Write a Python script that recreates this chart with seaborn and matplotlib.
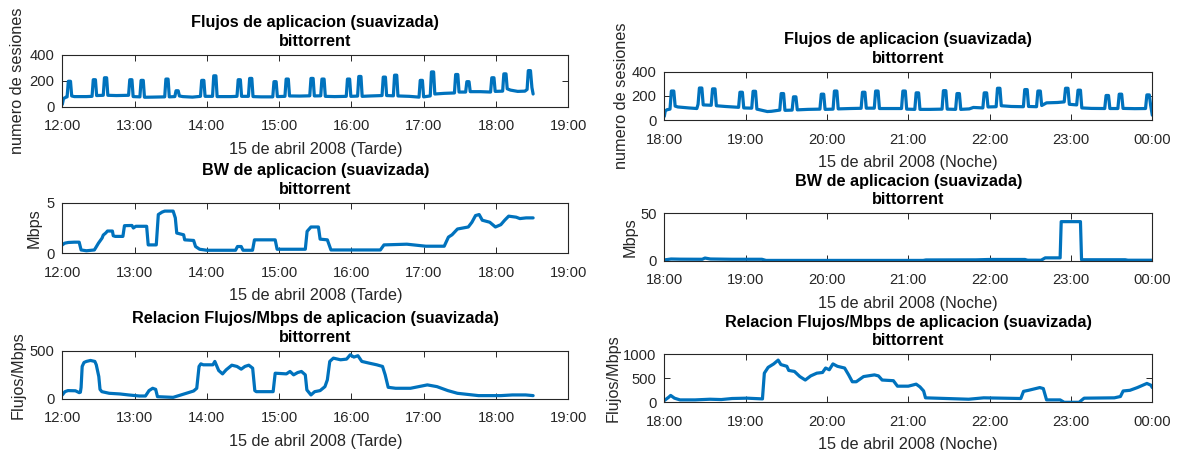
import numpy as np
import pandas as pd
import matplotlib
matplotlib.use("Agg")
import matplotlib.pyplot as plt
import matplotlib.dates as mdates
import seaborn as sns

# ---------------------------------------------------------------------------
# Series vertices: (minutes from the start of the window, value)
# ---------------------------------------------------------------------------
flujos_tarde = [
    (0, 20), (1, 65), (3, 75), (4.0, 78), (5.0, 198), (6.8, 198), (7.8, 85), (10, 80), (20, 80),
    (24.7, 82), (25.7, 210), (27.5, 210), (28.5, 88),
    (34.0, 90), (35.0, 225), (36.8, 225), (37.8, 90), (45, 88),
    (55.0, 90), (56.0, 210), (57.8, 210), (58.8, 80),
    (64.4, 78), (65.4, 205), (67.2, 205), (68.2, 75), (75, 76),
    (85.0, 78), (86.0, 215), (87.8, 215), (88.8, 78),
    (93.4, 80), (94.4, 125), (96.2, 125), (97.2, 85), (100, 80), (108, 76),
    (114.7, 82), (115.7, 205), (117.5, 205), (118.5, 82),
    (124.7, 82), (125.7, 240), (127.5, 240), (128.5, 80), (140, 80),
    (145.0, 82), (146.0, 210), (147.8, 210), (148.8, 82),
    (154.5, 82), (155.5, 220), (157.3, 220), (158.3, 80), (165, 78),
    (174.7, 78), (175.7, 195), (177.5, 195), (178.5, 80),
    (184.8, 82), (185.8, 215), (187.6, 215), (188.6, 85), (197, 84),
    (205.4, 86), (206.4, 220), (208.2, 220), (209.2, 85),
    (214.5, 86), (215.5, 215), (217.3, 215), (218.3, 82), (226, 80),
    (235.7, 82), (236.7, 215), (238.5, 215), (239.5, 82),
    (245.1, 84), (246.1, 235), (247.9, 235), (248.9, 82), (256, 85),
    (265.4, 88), (266.4, 230), (268.2, 230), (269.2, 88),
    (274.8, 86), (275.8, 245), (277.6, 245), (278.6, 85), (288, 82),
    (296.1, 76), (297.1, 205), (298.9, 205), (299.9, 78),
    (305.4, 85), (306.4, 270), (308.2, 270), (309.2, 100), (317, 105),
    (325.5, 108), (326.5, 250), (328.3, 250), (329.3, 115),
    (334.8, 115), (335.8, 195), (337.6, 195), (338.6, 118), (347, 118),
    (355.5, 115), (356.5, 225), (358.3, 225), (359.3, 120),
    (365.5, 122), (366.5, 255), (368.3, 255), (369.3, 140), (372, 130), (378, 120), (384, 122),
    (385.8, 135), (386.8, 280), (388.6, 280), (389.8, 150), (390.8, 100),
]

flujos_noche = [
    (0, 30), (0.7, 75), (2, 85), (4.2, 90), (5.2, 240), (7.0, 240), (8.0, 115), (10, 108), (18, 100),
    (24, 95), (24.9, 130), (25.9, 265), (27.7, 265), (28.7, 125),
    (34.6, 122), (35.6, 258), (37.4, 258), (38.4, 118), (45, 112),
    (54.8, 105), (55.8, 230), (57.6, 230), (58.6, 100),
    (64.5, 98), (65.5, 238), (67.3, 238), (68.3, 90), (76, 70), (79, 72),
    (85.2, 82), (86.2, 219), (88.0, 219), (89.0, 80),
    (94.3, 82), (95.3, 192), (97.1, 192), (98.1, 84), (106, 88),
    (114.8, 90), (115.8, 214), (117.6, 214), (118.6, 88),
    (124.5, 90), (125.5, 240), (127.3, 240), (128.3, 92), (137, 95),
    (145.2, 97), (146.2, 230), (148.0, 230), (149.0, 98),
    (154.9, 98), (155.9, 240), (157.7, 240), (158.7, 95), (166, 95),
    (175.0, 95), (176.0, 240), (177.8, 240), (178.8, 90),
    (184.8, 88), (185.8, 225), (187.6, 225), (188.6, 88), (196, 88),
    (204.9, 90), (205.9, 243), (207.7, 243), (208.7, 90),
    (214.9, 88), (215.9, 219), (217.7, 219), (218.7, 88), (225, 92), (228, 104),
    (235.0, 100), (236.0, 225), (237.8, 225), (238.8, 108),
    (244.8, 110), (245.8, 263), (247.6, 263), (248.6, 118), (256, 112),
    (264.9, 110), (265.9, 252), (267.7, 252), (268.7, 112),
    (274.6, 110), (275.6, 240), (277.4, 240), (278.4, 120), (282, 142), (290, 145),
    (295.0, 150), (296.0, 263), (297.8, 263), (298.8, 130),
    (304.2, 125), (305.2, 247), (307.0, 247), (308.0, 100), (315, 96),
    (324.9, 95), (325.9, 203), (327.7, 203), (328.7, 95),
    (334.6, 95), (335.6, 214), (337.4, 214), (338.4, 96), (347, 94),
    (355.0, 95), (356.0, 208), (357.8, 208), (358.8, 120), (360, 40),
]

bw_tarde = [
    (0, 0.83), (2, 1.0), (5, 1.07), (10, 1.1), (14, 1.1), (15.6, 0.33), (20, 0.25), (26.6, 0.33),
    (28, 0.6), (30, 1.0), (33, 1.5), (34, 1.8), (36, 2.0), (37.5, 2.2), (41.6, 2.2), (42.3, 1.73),
    (44, 1.67), (50.3, 1.67), (51.6, 2.73), (57.8, 2.75), (59, 2.5), (61, 2.67), (70, 2.67),
    (71.3, 0.83), (78, 0.83), (79.7, 3.83), (82.8, 4.07), (85, 4.17), (92, 4.17), (93.8, 3.5),
    (95, 2.0), (100.7, 1.83), (101.6, 1.33), (109, 1.27), (110.6, 0.67), (114, 0.4), (120, 0.3),
    (143.8, 0.3), (145.4, 0.67), (148.5, 0.67), (150, 0.3), (157.9, 0.3), (159.5, 1.33), (176.7, 1.33),
    (178.3, 0.4), (201.7, 0.4), (203.2, 2.17), (206.4, 2.6), (212.6, 2.6), (214, 1.4), (220, 1.33),
    (223, 0.33), (264, 0.33), (267, 0.83), (286, 0.9), (301.7, 0.7), (317, 0.7), (320.5, 1.6),
    (323.5, 1.83), (328, 2.4), (337, 2.6), (340, 3.07), (343, 3.73), (346, 3.83), (348.6, 3.27),
    (354.8, 3.07), (359.5, 2.6), (364, 2.83), (367.2, 3.27), (370.5, 3.67), (376.7, 3.57),
    (379.8, 3.43), (385, 3.5), (390.8, 3.5),
]

bw_noche = [
    (0, 0.8), (5, 1.8), (12, 1.6), (28, 1.5), (30, 2.8), (34, 1.8), (50, 1.5), (72, 1.5), (75, 0.3),
    (191, 0.3), (193, 0.8), (230, 0.9), (240, 1.3), (266, 1.3), (268, 0.5), (278, 0.5), (281, 3.0),
    (292, 3.0), (292.8, 41.2), (307, 41.2), (307.8, 1.0), (340, 1.0), (342, 0.5), (360, 0.5),
]

ratio_tarde = [
    (0, 42), (2.2, 76), (4.7, 87), (10.9, 85), (14, 66), (15, 70), (15.6, 120), (16.5, 337), (18, 378),
    (20, 389), (23.4, 399), (27, 389), (28.2, 354), (30.3, 232), (31.3, 100), (32.8, 76), (39, 59),
    (48, 52), (55, 42), (64, 31), (69, 31), (72, 87), (75, 111), (77.5, 100), (79, 24), (92, 17),
    (98.5, 42), (104.7, 66), (109, 83), (111.6, 111), (113.5, 337), (115, 364), (117, 354), (125, 354),
    (126.6, 389), (129.8, 295), (133, 260), (136, 302), (140.7, 350), (145, 337), (148.5, 309),
    (151.6, 337), (154.8, 350), (158, 319), (159.8, 87), (161, 76), (175, 76), (176.7, 267), (186, 260),
    (189, 285), (192, 250), (195.4, 274), (198.5, 285), (201.7, 250), (203, 94), (206.4, 42),
    (209.5, 76), (214, 87), (218, 128), (220, 198), (222, 389), (225, 423), (231, 406), (236, 413),
    (239, 458), (242, 434), (245.4, 448), (248.6, 389), (254.8, 371), (261, 354), (265.8, 337),
    (268, 250), (270.5, 121), (276.7, 111), (289, 111), (298.6, 135), (303, 146), (311, 128),
    (320, 87), (328, 59), (345.5, 35), (364, 35), (373.6, 42), (384.6, 42), (390.8, 35),
]

ratio_noche = [
    (0, 36), (3.3, 107), (4.7, 143), (7.5, 86), (11.6, 50), (22.7, 50), (33.7, 64), (42, 57), (50, 79),
    (61, 86), (72.4, 71), (73.8, 607), (76.6, 728), (80.7, 800), (84, 879), (86, 786), (90.4, 750),
    (91.8, 664), (96, 643), (100, 536), (104, 464), (108, 550), (112.5, 607), (116.7, 621), (119, 714),
    (121.7, 678), (124.4, 800), (127.7, 750), (133, 714), (136, 571), (138.7, 428), (141.6, 428),
    (147, 536), (155, 571), (158, 550), (160.7, 464), (169, 450), (172, 336), (180, 336),
    (185.8, 378), (188.6, 321), (191.3, 236), (192.7, 93), (208, 79), (224.5, 64), (235.6, 93),
    (263, 79), (265, 228), (268.7, 250), (277, 307), (279.6, 286), (282, 50), (292, 50), (295, 0),
    (306, 0), (309.7, 86), (332, 93), (336.5, 121), (338.5, 236), (343.5, 250), (349, 307),
    (356, 393), (358.9, 357), (360, 307),
]

start_tarde = pd.Timestamp("2008-04-15 12:00")
start_noche = pd.Timestamp("2008-04-15 18:00")

titles = [
    "Flujos de aplicacion (suavizada)\nbittorrent",
    "BW de aplicacion (suavizada)\nbittorrent",
    "Relacion Flujos/Mbps de aplicacion (suavizada)\nbittorrent",
]
ylabels = ["numero de sesiones", "Mbps", "Flujos/Mbps"]
xlabel_tarde = "15 de abril 2008 (Tarde)"
xlabel_noche = "15 de abril 2008 (Noche)"

yticks_tarde = [[0, 200, 400], [0, 5], [0, 500]]
yticks_noche = [[0, 200, 400], [0, 50], [0, 500, 1000]]

# ---------------------------------------------------------------------------
sns.set_theme(style="ticks")
plt.rcParams["font.family"] = ["Liberation Sans", "DejaVu Sans"]

LINE = "#0072BD"
DARK = "#262626"
TICK_FS = 10.6
LABEL_FS = 11.7

W, H = 1178, 450
fig = plt.figure(figsize=(W / 100, H / 100), dpi=100)


def add_axes_px(left, top, right, bottom):
    return fig.add_axes([left / W, 1 - bottom / H, (right - left) / W, (bottom - top) / H])


# axes boxes in pixels: (left, top, right, bottom)
boxes_tarde = [(62.3, 55, 568.3, 107), (62.3, 202.7, 568.3, 253.3), (62.3, 350.7, 568.3, 399)]
boxes_noche = [(664.3, 71.7, 1152.3, 120), (664.3, 213.3, 1152.3, 260.7), (664.3, 354.3, 1152.3, 402.3)]


def to_frame(vertices, start):
    mins, vals = zip(*vertices)
    return pd.DataFrame({
        "tiempo": start + pd.to_timedelta(np.array(mins), unit="min"),
        "valor": np.array(vals, dtype=float),
    })


def draw(ax, vertices, start, hours, yticks, title, ylabel, xlabel, ylabelpad):
    df = to_frame(vertices, start)
    sns.lineplot(data=df, x="tiempo", y="valor", ax=ax, color=LINE, linewidth=2.3)
    ax.set_xlim(start, start + pd.Timedelta(hours=hours))
    ax.set_ylim(yticks[0], yticks[-1])
    ax.set_yticks(yticks)
    ax.xaxis.set_major_locator(mdates.HourLocator())
    ax.xaxis.set_major_formatter(mdates.DateFormatter("%H:%M"))
    ax.tick_params(direction="in", top=True, right=True, length=4, width=0.7,
                   colors=DARK, labelsize=TICK_FS)
    ax.tick_params(axis="x", pad=9)
    ax.tick_params(axis="y", pad=5.5)
    for sp in ax.spines.values():
        sp.set_color(DARK)
        sp.set_linewidth(0.8)
        sp.set_visible(True)
    ax.set_title(title, fontweight="bold", fontsize=LABEL_FS, color="black", pad=6.5, linespacing=1.3)
    ax.set_ylabel(ylabel, color=DARK, fontsize=LABEL_FS, labelpad=ylabelpad)
    ax.set_xlabel(xlabel, color=DARK, fontsize=LABEL_FS, labelpad=6)


series_tarde = [flujos_tarde, bw_tarde, ratio_tarde]
series_noche = [flujos_noche, bw_noche, ratio_noche]

for i in range(3):
    ax = add_axes_px(*boxes_tarde[i])
    draw(ax, series_tarde[i], start_tarde, 7, yticks_tarde[i], titles[i], ylabels[i], xlabel_tarde, 3)
    ax = add_axes_px(*boxes_noche[i])
    draw(ax, series_noche[i], start_noche, 6, yticks_noche[i], titles[i], ylabels[i], xlabel_noche, 2)

fig.savefig("out.png", dpi=100, facecolor="white")
